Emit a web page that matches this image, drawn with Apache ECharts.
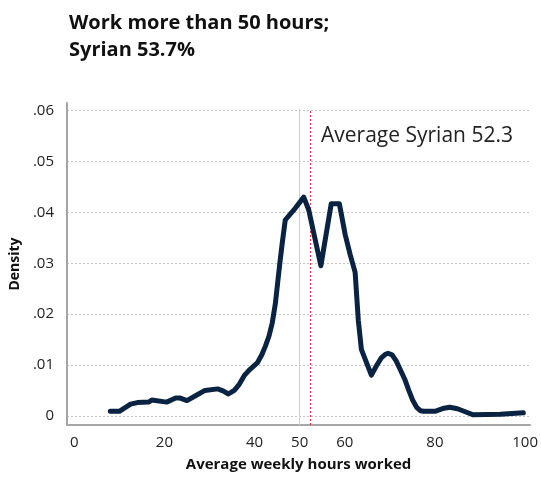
<!DOCTYPE html>
<html>
<head>
<meta charset="utf-8">
<script src="https://cdn.jsdelivr.net/npm/echarts@6/dist/echarts.min.js"></script>
<style>
html,body{margin:0;padding:0;background:#fff;}
#chart{width:541px;height:477px;}
</style>
</head>
<body>
<div id="chart"></div>
<script>
// Data
const hours = [8, 10, 12.5, 14, 16.5, 17.2, 17.6, 20.5, 22.5, 23.5, 25, 27, 29, 31.8, 33, 34.2, 35.5, 36.6, 37.7, 38.8, 40.6, 41.6, 42.4, 43.2, 43.9, 44.6, 45.1, 45.6, 46.1, 46.8, 49, 50.9, 52, 54.7, 57, 58.8, 60.1, 61.2, 62.3, 63.0, 63.7, 65.9, 67, 68.1, 69, 69.6, 70.5, 71.4, 72.3, 73.3, 74.2, 75.1, 76, 76.8, 77.5, 80, 82, 83.3, 85, 87, 88.5, 94.5, 99.6];
const density = [0.0009, 0.0009, 0.0023, 0.0026, 0.0027, 0.0031, 0.0028, 0.0027, 0.0035, 0.0035, 0.0030, 0.0040, 0.0050, 0.0053, 0.0049, 0.0043, 0.0050, 0.0062, 0.0079, 0.0090, 0.0104, 0.0120, 0.0137, 0.0157, 0.0182, 0.0220, 0.0260, 0.0300, 0.0337, 0.0385, 0.0408, 0.0430, 0.0405, 0.0295, 0.0417, 0.0417, 0.0356, 0.0317, 0.0282, 0.0188, 0.0130, 0.0080, 0.0098, 0.0114, 0.0121, 0.0123, 0.0120, 0.0108, 0.0091, 0.0072, 0.0050, 0.0030, 0.0016, 0.0010, 0.0009, 0.0009, 0.0015, 0.0017, 0.0014, 0.0007, 0.0002, 0.0003, 0.0006];
const xTicks = [0, 20, 40, 50, 60, 80, 100];
const yTicks = [0, 0.01, 0.02, 0.03, 0.04, 0.05, 0.06];
const refLine = 50;
const avgSyrian = 52.3;
const titleText = 'Work more than 50 hours;\nSyrian 53.7%';
const avgLabel = 'Average Syrian 52.3';

const FONT = '"Open Sans", "Noto Sans", sans-serif';
const yMin = -0.0018, yMax = 0.0615;
const lineTop = 0.0603;

const chart = echarts.init(document.getElementById('chart'), null, {renderer: 'canvas'});
chart.setOption({
  animation: false,
  backgroundColor: '#fff',
  title: [
    {text: titleText, left: 69, top: 10, padding: 0,
     textStyle: {fontFamily: FONT, fontSize: 20, fontWeight: 'bold', color: '#111', lineHeight: 27}},
    {text: avgLabel, left: 321, top: 126, padding: 0,
     textStyle: {fontFamily: FONT, fontSize: 21, fontWeight: 'normal', color: '#222'}}
  ],
  grid: {left: 67, right: 8, top: 103, bottom: 47, containLabel: false},
  xAxis: {
    type: 'value', min: -1.6, max: 101.1,
    name: 'Average weekly hours worked', nameLocation: 'middle', nameGap: 32,
    nameTextStyle: {fontFamily: FONT, fontSize: 15, fontWeight: 'bold', color: '#111'},
    axisLine: {show: true, onZero: false, lineStyle: {color: '#a6a6a6', width: 2}},
    axisTick: {show: false, customValues: xTicks},
    axisLabel: {customValues: xTicks, fontFamily: FONT, fontSize: 15, color: '#222', margin: 10},
    splitLine: {show: false}
  },
  yAxis: {
    type: 'value', min: yMin, max: yMax,
    name: 'Density', nameLocation: 'middle', nameGap: 44,
    nameTextStyle: {fontFamily: FONT, fontSize: 14, fontWeight: 'bold', color: '#111'},
    axisLine: {show: true, onZero: false, lineStyle: {color: '#a6a6a6', width: 2}},
    axisTick: {show: false, customValues: yTicks},
    axisLabel: {customValues: yTicks, fontFamily: FONT, fontSize: 15, color: '#222', margin: 13,
      formatter: v => (Math.abs(v) < 1e-9 ? '0' : v.toFixed(2).replace(/^0/, ''))},
    splitLine: {show: true, lineStyle: {color: '#c4c4c4', type: [2, 2], width: 1}}
  },
  series: [{
    type: 'line',
    data: hours.map((h, i) => [h, density[i]]),
    showSymbol: false, symbol: 'none', smooth: false,
    lineStyle: {color: '#0a2342', width: 5, join: 'round', cap: 'round'},
    z: 5,
    markLine: {
      silent: true, symbol: 'none', label: {show: false},
      data: [
        [{coord: [refLine, yMin], lineStyle: {color: '#cfcfcf', width: 1, type: 'solid'}}, {coord: [refLine, lineTop]}],
        [{coord: [avgSyrian, yMin], lineStyle: {color: '#e8323a', width: 1, type: [2, 2]}}, {coord: [avgSyrian, lineTop]}]
      ]
    }
  }]
});
</script>
</body>
</html>
